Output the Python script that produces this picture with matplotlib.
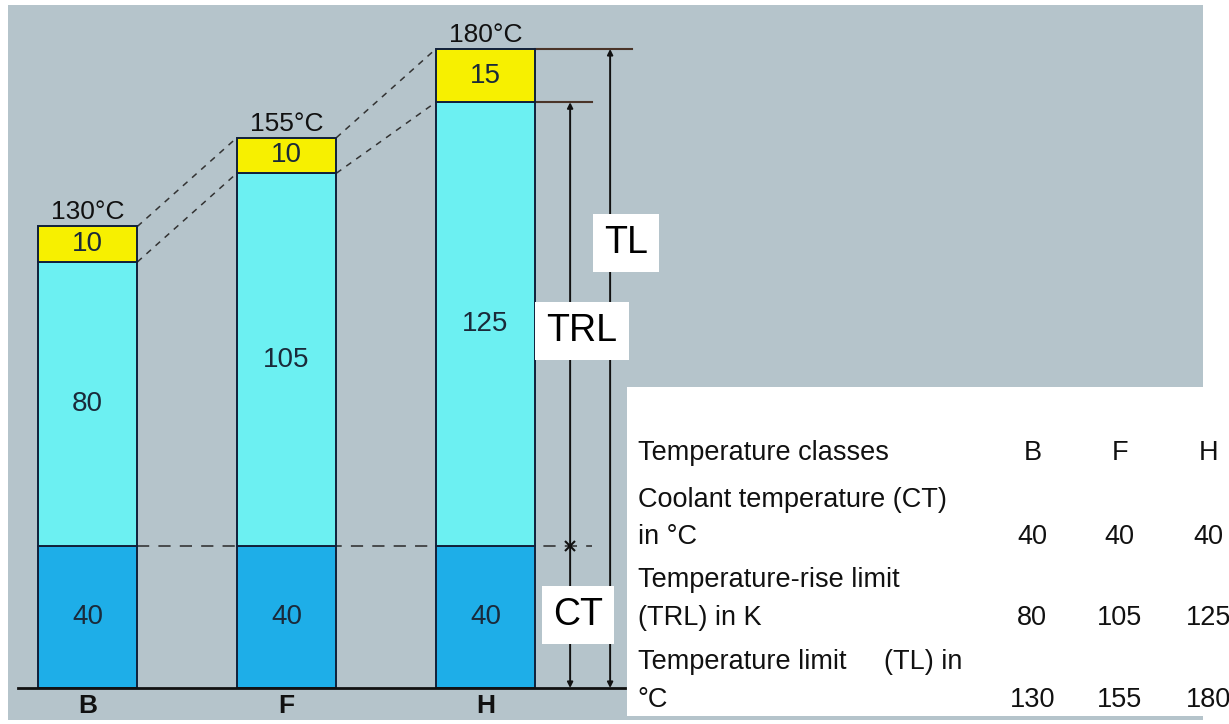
import numpy as np
import matplotlib
matplotlib.use("Agg")
import matplotlib.pyplot as plt
from matplotlib.patches import Rectangle

# data
classes = ["B", "F", "H"]
coolant = [40, 40, 40]          # CT in degC
trl = [80, 105, 125]            # temperature-rise limit in K
margin = [10, 10, 15]           # hot-spot margin
tl = [130, 155, 180]            # temperature limit in degC

table_rows = [
    ("Temperature classes", None, classes),
    ("Coolant temperature (CT)", "in \u00b0C", coolant),
    ("Temperature-rise limit", "(TRL) in K", trl),
    ("Temperature limit     (TL) in", "\u00b0C", tl),
]

c_yellow = "#f7f000"
c_cyan = "#6cf0f2"
c_blue = "#1eaee8"
c_bg = "#b5c4cb"
c_num = "#1a2a3a"

plt.rcParams["font.family"] = ["Liberation Sans", "DejaVu Sans"]

fig = plt.figure(figsize=(12.29, 7.24), dpi=100)
ax = fig.add_axes([0, 0, 1, 1])
ax.set_xlim(-0.44, 5.736)
ax.set_ylim(-10.14, 193.8)
ax.axis("off")

# photo-like background
ax.add_patch(Rectangle((0.0065, 0.006), 0.972, 0.987, transform=ax.transAxes,
                       facecolor=c_bg, edgecolor="none", zorder=0))

x = np.arange(len(classes))
w = 0.5
bot2 = np.array(coolant) + np.array(trl)
ax.bar(x, coolant, w, color=c_blue, edgecolor="#10203a", lw=1.4, zorder=2)
ax.bar(x, trl, w, bottom=coolant, color=c_cyan, edgecolor="#10203a", lw=1.4, zorder=2)
ax.bar(x, margin, w, bottom=bot2, color=c_yellow, edgecolor="#10203a", lw=1.4, zorder=2)

for i in range(len(classes)):
    ax.text(x[i], coolant[i] / 2, str(coolant[i]), ha="center", va="center",
            fontsize=20, color=c_num, zorder=3)
    ax.text(x[i], coolant[i] + trl[i] / 2, str(trl[i]), ha="center", va="center",
            fontsize=20, color=c_num, zorder=3)
    ax.text(x[i], bot2[i] + margin[i] / 2, str(margin[i]), ha="center", va="center",
            fontsize=20, color=c_num, zorder=3)
    ax.text(x[i], tl[i] + 0.6, f"{tl[i]}\u00b0C", ha="center", va="bottom",
            fontsize=19, color="#111111", zorder=3)
    ax.text(x[i], -5.2, classes[i], ha="center", va="center",
            fontsize=19, fontweight="bold", color="#111111", zorder=3)

# dashed connectors between neighbouring bars
for i in range(len(classes) - 1):
    ax.plot([x[i] + w / 2, x[i + 1] - w / 2], [tl[i], tl[i + 1]],
            ls=(0, (4, 4)), color="#333333", lw=1.1, zorder=1)
    ax.plot([x[i] + w / 2, x[i + 1] - w / 2], [bot2[i], bot2[i + 1]],
            ls=(0, (4, 4)), color="#333333", lw=1.1, zorder=1)

# coolant level dashed line
ax.plot([x[0] + w / 2, 2.535], [coolant[0], coolant[0]], ls=(0, (8, 6)),
        color="#2a2a2a", lw=1.1, zorder=1)

# baseline
ax.plot([-0.35, 2.7], [0, 0], color="#111111", lw=2, zorder=3)

# dimension lines on the right of H
xr = x[-1] + w / 2
ax.plot([xr, 2.736], [tl[-1], tl[-1]], color="#4a3428", lw=1.5, zorder=1)
ax.plot([xr, 2.535], [bot2[-1], bot2[-1]], color="#4a3428", lw=1.5, zorder=1)
ax.annotate("", xy=(2.626, tl[-1]), xytext=(2.626, 0),
            arrowprops=dict(arrowstyle="<|-|>", color="#111111", lw=1.4,
                            mutation_scale=8, shrinkA=0, shrinkB=0), zorder=1)
ax.annotate("", xy=(2.425, bot2[-1]), xytext=(2.425, 0),
            arrowprops=dict(arrowstyle="<|-|>", color="#111111", lw=1.4,
                            mutation_scale=8, shrinkA=0, shrinkB=0), zorder=1)
ax.plot([2.425], [coolant[-1]], marker="x", color="#111111", ms=7, mew=1.5, zorder=2)

box = dict(boxstyle="square,pad=0.3", facecolor="white", edgecolor="none")
ax.text(2.706, 125.4, "TL", ha="center", va="center", fontsize=27, bbox=box, zorder=4)
ax.text(2.485, 100.5, "TRL", ha="center", va="center", fontsize=27, bbox=box, zorder=4)
ax.text(2.465, 20.5, "CT", ha="center", va="center", fontsize=27, bbox=box, zorder=4)

# table on the right
ax.add_patch(Rectangle((0.510, 0.011), 0.490, 0.455, transform=ax.transAxes,
                       facecolor="white", edgecolor="none", zorder=5))
col_x = [0.840, 0.911, 0.983]
row_y = [(0.374, None), (0.309, 0.258), (0.199, 0.146), (0.086, 0.033)]
for (l1, l2, vals), (y1, y2) in zip(table_rows, row_y):
    ax.text(0.519, y1, l1, transform=ax.transAxes, ha="left", va="center",
            fontsize=19.5, color="#111111", zorder=6)
    yv = y1
    if l2 is not None:
        ax.text(0.519, y2, l2, transform=ax.transAxes, ha="left", va="center",
                fontsize=19.5, color="#111111", zorder=6)
        yv = y2
    for cx, v in zip(col_x, vals):
        ax.text(cx, yv, str(v), transform=ax.transAxes, ha="center", va="center",
                fontsize=19.5, color="#111111", zorder=6)

fig.savefig("out.png", dpi=100)
